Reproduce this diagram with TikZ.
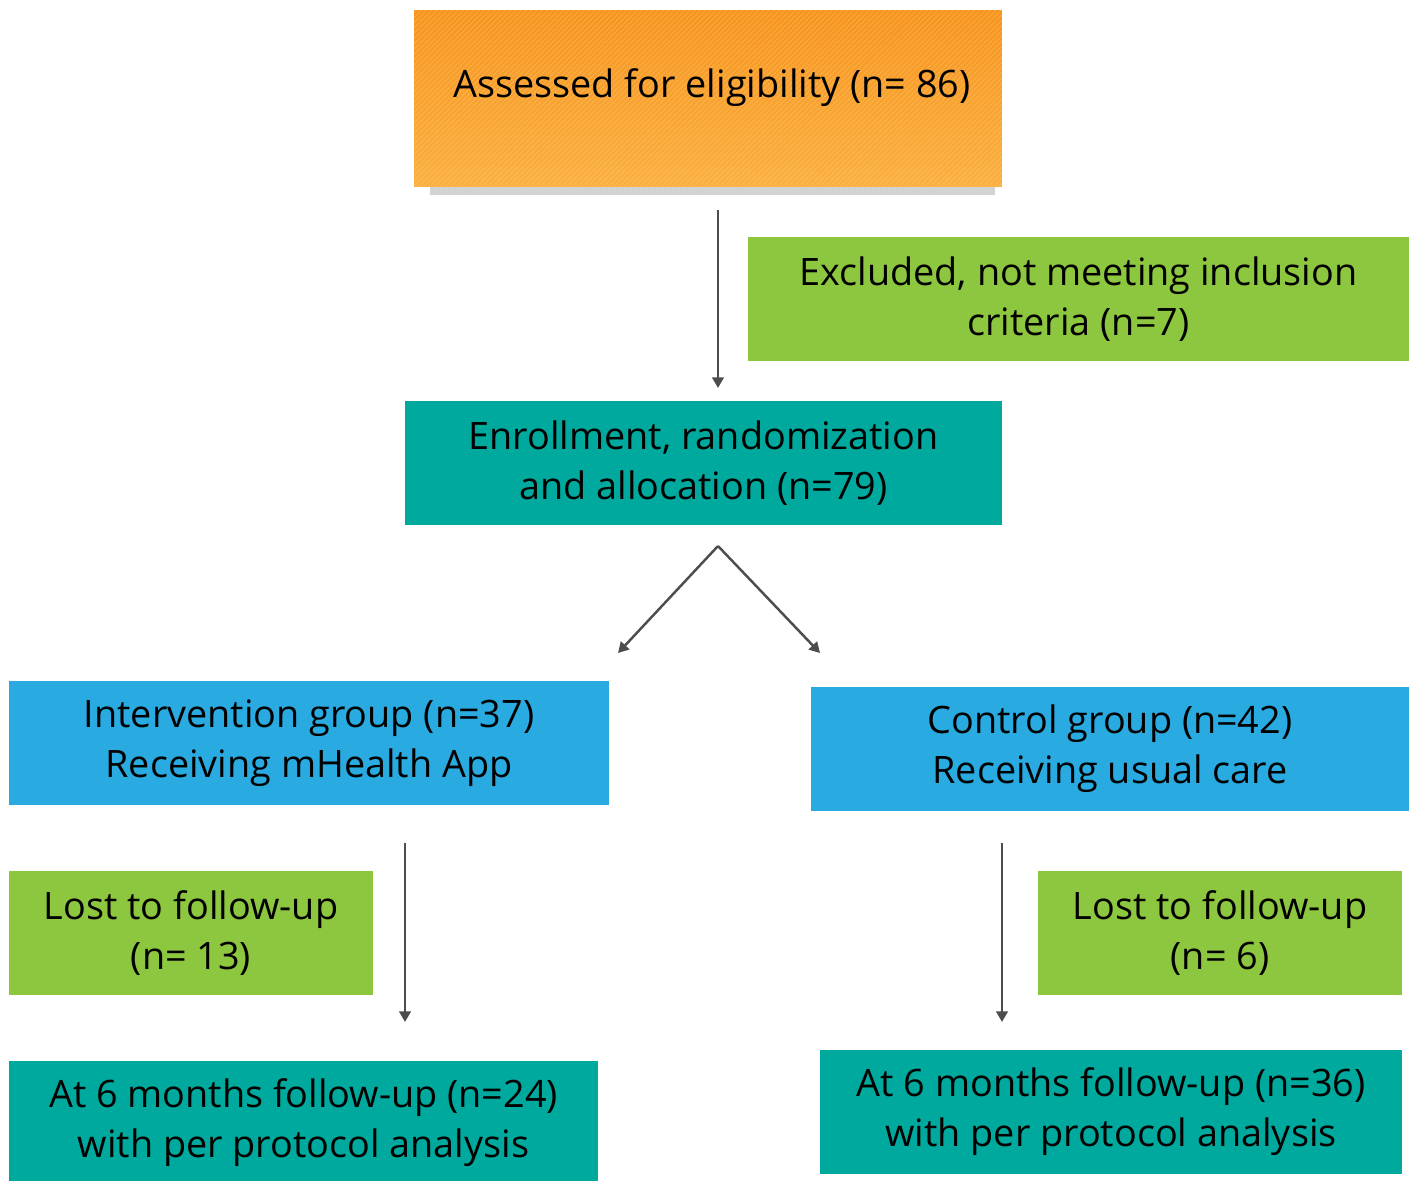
\documentclass[tikz,border=0pt]{standalone}
\usepackage{fontspec}
\setmainfont{Open Sans}
\usepackage{tikz}
\usetikzlibrary{arrows.meta, positioning, patterns, shadows}
\definecolor{boxgreen}{HTML}{8DC63F}
\definecolor{boxteal}{HTML}{00A99D}
\definecolor{boxblue}{HTML}{29ABE2}
\definecolor{orangetop}{HTML}{F7941D}
\definecolor{orangebot}{HTML}{FBB040}
\definecolor{arrowgray}{HTML}{4D4D4D}

\begin{document}
\begin{tikzpicture}[x=0.02cm, y=-0.02cm,
    box/.style={minimum height=2.48cm, inner sep=0pt, align=center, font=\fontsize{21.5}{28.5}\selectfont},
    greenbox/.style={box, fill=boxgreen},
    tealbox/.style={box, fill=boxteal},
    bluebox/.style={box, fill=boxblue},
    arr/.style={draw=arrowgray, line width=1.4pt, -{Triangle[length=6pt, width=6.5pt]}}]
                    \useasboundingbox (0,0) rectangle (1409,1180);
                    % top box with hatching and shadow
                    \node[box, minimum width=11.76cm, minimum height=3.54cm, top color=orangetop, bottom color=orangebot,
                        drop shadow={shadow yshift=-7pt, shadow scale=0.96, opacity=0.35},
                        postaction={pattern=north east lines, pattern color=orangebot!60!white, opacity=0.4}] (assess) at (708,98.5) {};
                    \node[font=\fontsize{21.5}{28.5}\selectfont] (assesstext) at (712,88) {Assessed for eligibility (n= 86)};
                    \node[greenbox, minimum width=13.22cm] (excluded) at (1078.5,299) {Excluded, not meeting inclusion\\criteria (n=7)};
                    \node[tealbox, minimum width=11.94cm] (enroll) at (703.5,463) {Enrollment, randomization\\and allocation (n=79)};
                    \node[bluebox, minimum width=12cm] (interv) at (309,743) {Intervention group (n=37)\\Receiving mHealth App};
                    \node[bluebox, minimum width=11.96cm] (control) at (1110,749) {Control group (n=42)\\Receiving usual care};
                    \node[greenbox, minimum width=7.28cm] (lostl) at (191,933) {Lost to follow-up\\(n= 13)};
                    \node[greenbox, minimum width=7.28cm] (lostr) at (1220,933) {Lost to follow-up\\(n= 6)};
                    \node[tealbox, minimum width=11.78cm] (sixl) at (303.5,1123) {At 6 months follow-up (n=24)\\with per protocol analysis};
                    \node[tealbox, minimum width=11.64cm] (sixr) at (1111,1112) {At 6 months follow-up (n=36)\\with per protocol analysis};
                    % arrow ends
                    \coordinate (topstart) at (718,210);
                    \coordinate (topend) at (718,388);
                    \coordinate (split) at (718,546);
                    \coordinate (splitl) at (618,653);
                    \coordinate (splitr) at (820,653);
                    \coordinate (leftstart) at (405,843);
                    \coordinate (leftend) at (405,1022);
                    \coordinate (rightstart) at (1002,843);
                    \coordinate (rightend) at (1002,1022);
                    \draw[arr] (topstart) -- (topend);
                    \draw[arr] (split) -- (splitl);
                    \draw[arr] (split) -- (splitr);
                    \draw[arr] (leftstart) -- (leftend);
                    \draw[arr] (rightstart) -- (rightend);
                \end{tikzpicture}
\end{document}
